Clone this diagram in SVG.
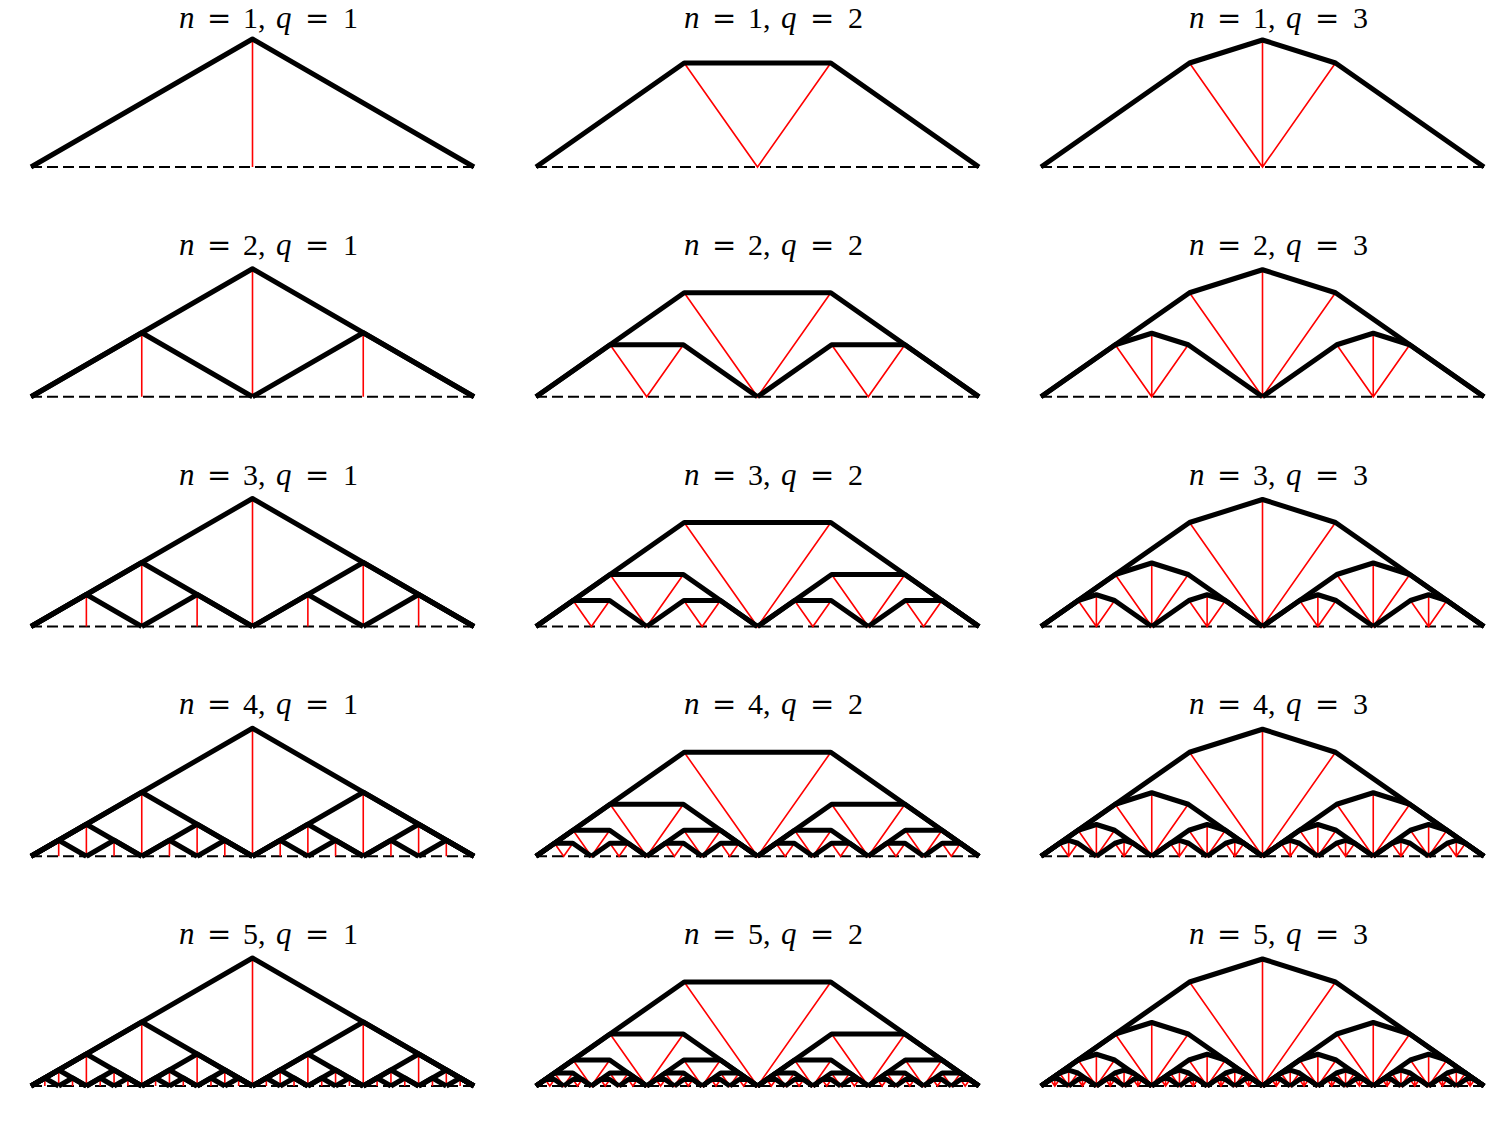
<svg xmlns="http://www.w3.org/2000/svg" width="1496" height="1128" viewBox="0 0 1496 1128">
<style>
.k{fill:none;stroke:#000;stroke-width:5;stroke-linejoin:round;stroke-linecap:butt;vector-effect:non-scaling-stroke}
.r{fill:none;stroke:#f00;stroke-width:1.6;vector-effect:non-scaling-stroke}
.base{stroke:#000;stroke-width:1.8;stroke-dasharray:11 5}
.t{font-family:"Liberation Serif",serif;font-size:30px;fill:#000}
.i{font-style:italic;font-size:31px}
.e{font-family:"DejaVu Serif",serif;font-size:29px}
</style>
<defs>
<path id="q1k" class="k" d="M0,0L221.5,-128L443,0"/>
<path id="q1r" class="r" d="M221.5,0V-128"/>
<path id="q2k" class="k" d="M0,0L148.2,-104H294.8L443,0"/>
<path id="q2r" class="r" d="M148.2,-104L221.5,0L294.8,-104"/>
<path id="q3k" class="k" d="M0,0L148.5,-104L221.5,-127L294.5,-104L443,0"/>
<path id="q3r" class="r" d="M148.5,-104L221.5,0L294.5,-104M221.5,0V-127"/>

<g id="q1k2"><use href="#q1k" transform="scale(.5)"/><use href="#q1k" transform="translate(221.5,0) scale(.5)"/><use href="#q1k"/></g>
<g id="q1k3"><use href="#q1k2" transform="scale(.5)"/><use href="#q1k2" transform="translate(221.5,0) scale(.5)"/><use href="#q1k"/></g>
<g id="q1k4"><use href="#q1k3" transform="scale(.5)"/><use href="#q1k3" transform="translate(221.5,0) scale(.5)"/><use href="#q1k"/></g>
<g id="q1k5"><use href="#q1k4" transform="scale(.5)"/><use href="#q1k4" transform="translate(221.5,0) scale(.5)"/><use href="#q1k"/></g>
<g id="q1r2"><use href="#q1r" transform="scale(.5)"/><use href="#q1r" transform="translate(221.5,0) scale(.5)"/><use href="#q1r"/></g>
<g id="q1r3"><use href="#q1r2" transform="scale(.5)"/><use href="#q1r2" transform="translate(221.5,0) scale(.5)"/><use href="#q1r"/></g>
<g id="q1r4"><use href="#q1r3" transform="scale(.5)"/><use href="#q1r3" transform="translate(221.5,0) scale(.5)"/><use href="#q1r"/></g>
<g id="q1r5"><use href="#q1r4" transform="scale(.5)"/><use href="#q1r4" transform="translate(221.5,0) scale(.5)"/><use href="#q1r"/></g>

<g id="q2k2"><use href="#q2k" transform="scale(.5)"/><use href="#q2k" transform="translate(221.5,0) scale(.5)"/><use href="#q2k"/></g>
<g id="q2k3"><use href="#q2k2" transform="scale(.5)"/><use href="#q2k2" transform="translate(221.5,0) scale(.5)"/><use href="#q2k"/></g>
<g id="q2k4"><use href="#q2k3" transform="scale(.5)"/><use href="#q2k3" transform="translate(221.5,0) scale(.5)"/><use href="#q2k"/></g>
<g id="q2k5"><use href="#q2k4" transform="scale(.5)"/><use href="#q2k4" transform="translate(221.5,0) scale(.5)"/><use href="#q2k"/></g>
<g id="q2r2"><use href="#q2r" transform="scale(.5)"/><use href="#q2r" transform="translate(221.5,0) scale(.5)"/><use href="#q2r"/></g>
<g id="q2r3"><use href="#q2r2" transform="scale(.5)"/><use href="#q2r2" transform="translate(221.5,0) scale(.5)"/><use href="#q2r"/></g>
<g id="q2r4"><use href="#q2r3" transform="scale(.5)"/><use href="#q2r3" transform="translate(221.5,0) scale(.5)"/><use href="#q2r"/></g>
<g id="q2r5"><use href="#q2r4" transform="scale(.5)"/><use href="#q2r4" transform="translate(221.5,0) scale(.5)"/><use href="#q2r"/></g>

<g id="q3k2"><use href="#q3k" transform="scale(.5)"/><use href="#q3k" transform="translate(221.5,0) scale(.5)"/><use href="#q3k"/></g>
<g id="q3k3"><use href="#q3k2" transform="scale(.5)"/><use href="#q3k2" transform="translate(221.5,0) scale(.5)"/><use href="#q3k"/></g>
<g id="q3k4"><use href="#q3k3" transform="scale(.5)"/><use href="#q3k3" transform="translate(221.5,0) scale(.5)"/><use href="#q3k"/></g>
<g id="q3k5"><use href="#q3k4" transform="scale(.5)"/><use href="#q3k4" transform="translate(221.5,0) scale(.5)"/><use href="#q3k"/></g>
<g id="q3r2"><use href="#q3r" transform="scale(.5)"/><use href="#q3r" transform="translate(221.5,0) scale(.5)"/><use href="#q3r"/></g>
<g id="q3r3"><use href="#q3r2" transform="scale(.5)"/><use href="#q3r2" transform="translate(221.5,0) scale(.5)"/><use href="#q3r"/></g>
<g id="q3r4"><use href="#q3r3" transform="scale(.5)"/><use href="#q3r3" transform="translate(221.5,0) scale(.5)"/><use href="#q3r"/></g>
<g id="q3r5"><use href="#q3r4" transform="scale(.5)"/><use href="#q3r4" transform="translate(221.5,0) scale(.5)"/><use href="#q3r"/></g>
</defs>
<rect width="1496" height="1128" fill="#fff"/>

<!-- Row n=1 -->
<g id="p-n1-q1" transform="translate(31,167)"><line class="base" x1="0" y1="0" x2="443" y2="0"/><use href="#q1r"/><use href="#q1k"/></g>
<g id="p-n1-q2" transform="translate(536,167)"><line class="base" x1="0" y1="0" x2="443" y2="0"/><use href="#q2r"/><use href="#q2k"/></g>
<g id="p-n1-q3" transform="translate(1041,167)"><line class="base" x1="0" y1="0" x2="443" y2="0"/><use href="#q3r"/><use href="#q3k"/></g>
<!-- Row n=2 -->
<g id="p-n2-q1" transform="translate(31,396.75)"><line class="base" x1="0" y1="0" x2="443" y2="0"/><use href="#q1r2"/><use href="#q1k2"/></g>
<g id="p-n2-q2" transform="translate(536,396.75)"><line class="base" x1="0" y1="0" x2="443" y2="0"/><use href="#q2r2"/><use href="#q2k2"/></g>
<g id="p-n2-q3" transform="translate(1041,396.75)"><line class="base" x1="0" y1="0" x2="443" y2="0"/><use href="#q3r2"/><use href="#q3k2"/></g>
<!-- Row n=3 -->
<g id="p-n3-q1" transform="translate(31,626.5)"><line class="base" x1="0" y1="0" x2="443" y2="0"/><use href="#q1r3"/><use href="#q1k3"/></g>
<g id="p-n3-q2" transform="translate(536,626.5)"><line class="base" x1="0" y1="0" x2="443" y2="0"/><use href="#q2r3"/><use href="#q2k3"/></g>
<g id="p-n3-q3" transform="translate(1041,626.5)"><line class="base" x1="0" y1="0" x2="443" y2="0"/><use href="#q3r3"/><use href="#q3k3"/></g>
<!-- Row n=4 -->
<g id="p-n4-q1" transform="translate(31,856.25)"><line class="base" x1="0" y1="0" x2="443" y2="0"/><use href="#q1r4"/><use href="#q1k4"/></g>
<g id="p-n4-q2" transform="translate(536,856.25)"><line class="base" x1="0" y1="0" x2="443" y2="0"/><use href="#q2r4"/><use href="#q2k4"/></g>
<g id="p-n4-q3" transform="translate(1041,856.25)"><line class="base" x1="0" y1="0" x2="443" y2="0"/><use href="#q3r4"/><use href="#q3k4"/></g>
<!-- Row n=5 -->
<g id="p-n5-q1" transform="translate(31,1086)"><line class="base" x1="0" y1="0" x2="443" y2="0"/><use href="#q1r5"/><use href="#q1k5"/></g>
<g id="p-n5-q2" transform="translate(536,1086)"><line class="base" x1="0" y1="0" x2="443" y2="0"/><use href="#q2r5"/><use href="#q2k5"/></g>
<g id="p-n5-q3" transform="translate(1041,1086)"><line class="base" x1="0" y1="0" x2="443" y2="0"/><use href="#q3r5"/><use href="#q3k5"/></g>

<g id="titles" class="t">
<text y="27.5"><tspan class="i" x="179">n</tspan><tspan class="e" x="207">=</tspan><tspan x="243">1,</tspan><tspan class="i" x="276">q</tspan><tspan class="e" x="305">=</tspan><tspan x="343">1</tspan></text>
<text y="27.5"><tspan class="i" x="684">n</tspan><tspan class="e" x="712">=</tspan><tspan x="748">1,</tspan><tspan class="i" x="781">q</tspan><tspan class="e" x="810">=</tspan><tspan x="848">2</tspan></text>
<text y="27.5"><tspan class="i" x="1189">n</tspan><tspan class="e" x="1217">=</tspan><tspan x="1253">1,</tspan><tspan class="i" x="1286">q</tspan><tspan class="e" x="1315">=</tspan><tspan x="1353">3</tspan></text>

<text y="254.75"><tspan class="i" x="179">n</tspan><tspan class="e" x="207">=</tspan><tspan x="243">2,</tspan><tspan class="i" x="276">q</tspan><tspan class="e" x="305">=</tspan><tspan x="343">1</tspan></text>
<text y="254.75"><tspan class="i" x="684">n</tspan><tspan class="e" x="712">=</tspan><tspan x="748">2,</tspan><tspan class="i" x="781">q</tspan><tspan class="e" x="810">=</tspan><tspan x="848">2</tspan></text>
<text y="254.75"><tspan class="i" x="1189">n</tspan><tspan class="e" x="1217">=</tspan><tspan x="1253">2,</tspan><tspan class="i" x="1286">q</tspan><tspan class="e" x="1315">=</tspan><tspan x="1353">3</tspan></text>

<text y="484.5"><tspan class="i" x="179">n</tspan><tspan class="e" x="207">=</tspan><tspan x="243">3,</tspan><tspan class="i" x="276">q</tspan><tspan class="e" x="305">=</tspan><tspan x="343">1</tspan></text>
<text y="484.5"><tspan class="i" x="684">n</tspan><tspan class="e" x="712">=</tspan><tspan x="748">3,</tspan><tspan class="i" x="781">q</tspan><tspan class="e" x="810">=</tspan><tspan x="848">2</tspan></text>
<text y="484.5"><tspan class="i" x="1189">n</tspan><tspan class="e" x="1217">=</tspan><tspan x="1253">3,</tspan><tspan class="i" x="1286">q</tspan><tspan class="e" x="1315">=</tspan><tspan x="1353">3</tspan></text>

<text y="714.25"><tspan class="i" x="179">n</tspan><tspan class="e" x="207">=</tspan><tspan x="243">4,</tspan><tspan class="i" x="276">q</tspan><tspan class="e" x="305">=</tspan><tspan x="343">1</tspan></text>
<text y="714.25"><tspan class="i" x="684">n</tspan><tspan class="e" x="712">=</tspan><tspan x="748">4,</tspan><tspan class="i" x="781">q</tspan><tspan class="e" x="810">=</tspan><tspan x="848">2</tspan></text>
<text y="714.25"><tspan class="i" x="1189">n</tspan><tspan class="e" x="1217">=</tspan><tspan x="1253">4,</tspan><tspan class="i" x="1286">q</tspan><tspan class="e" x="1315">=</tspan><tspan x="1353">3</tspan></text>

<text y="944"><tspan class="i" x="179">n</tspan><tspan class="e" x="207">=</tspan><tspan x="243">5,</tspan><tspan class="i" x="276">q</tspan><tspan class="e" x="305">=</tspan><tspan x="343">1</tspan></text>
<text y="944"><tspan class="i" x="684">n</tspan><tspan class="e" x="712">=</tspan><tspan x="748">5,</tspan><tspan class="i" x="781">q</tspan><tspan class="e" x="810">=</tspan><tspan x="848">2</tspan></text>
<text y="944"><tspan class="i" x="1189">n</tspan><tspan class="e" x="1217">=</tspan><tspan x="1253">5,</tspan><tspan class="i" x="1286">q</tspan><tspan class="e" x="1315">=</tspan><tspan x="1353">3</tspan></text>
</g>
</svg>
